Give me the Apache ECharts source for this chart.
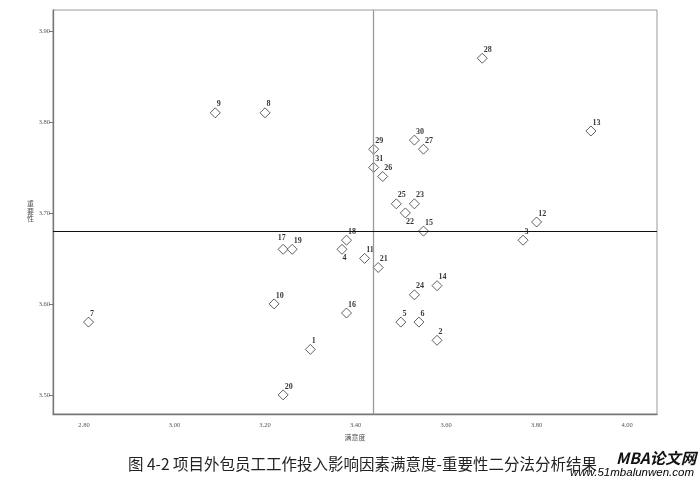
<!DOCTYPE html>
<html>
<head>
<meta charset="utf-8">
<script src="https://cdn.jsdelivr.net/npm/echarts@6/dist/echarts.min.js"></script>
<style>
  html, body { margin: 0; padding: 0; background: #fff; }
  #main { width: 700px; height: 480px; }
</style>
</head>
<body>
<div id="main"></div>
<script>
// 因素编号
var ids = [1, 2, 3, 4, 5, 6, 7, 8, 9, 10, 11, 12, 13, 14, 15, 16,
  17, 18, 19, 20, 21, 22, 23, 24, 25, 26, 27, 28, 29, 30, 31];
// 满意度
var satisfaction = [3.30, 3.58, 3.77, 3.37, 3.50, 3.54, 2.81, 3.20, 3.09, 3.22, 3.42, 3.80, 3.92, 3.58, 3.55, 3.38,
  3.24, 3.38, 3.26, 3.24, 3.45, 3.51, 3.53, 3.53, 3.49, 3.46, 3.55, 3.68, 3.44, 3.53, 3.44];
// 重要性
var importance = [3.55, 3.56, 3.67, 3.66, 3.58, 3.58, 3.58, 3.81, 3.81, 3.60, 3.65, 3.69, 3.79, 3.62, 3.68, 3.59,
  3.66, 3.67, 3.66, 3.50, 3.64, 3.70, 3.71, 3.61, 3.71, 3.74, 3.77, 3.87, 3.77, 3.78, 3.75];
// 均值参考线
var satisfactionMean = 3.443;
var importanceMean = 3.677;
// 刻度
var xTicks = [2.80, 3.00, 3.20, 3.40, 3.60, 3.80, 4.00];
var yTicks = [3.50, 3.60, 3.70, 3.80, 3.90];

var belowLabels = [4, 22];
var aboveLabels = [17];

var points = ids.map(function (id, i) {
  var pos = [7, -7];
  if (belowLabels.indexOf(id) >= 0) pos = [6, 10];
  if (aboveLabels.indexOf(id) >= 0) pos = [0, -10];
  return {
    value: [satisfaction[i], importance[i]],
    name: String(id),
    label: { position: pos }
  };
});

var myChart = echarts.init(document.getElementById('main'));
myChart.setOption({
  backgroundColor: '#fff',
  animation: false,
  title: {
    text: '图 4-2 项目外包员工工作投入影响因素满意度-重要性二分法分析结果',
    left: 123,
    top: 451,
    textStyle: {
      fontFamily: 'Noto Sans CJK SC',
      fontSize: 15.5,
      fontWeight: 'normal',
      color: '#222'
    }
  },
  grid: { left: 53, right: 43, top: 10, bottom: 66, show: true, borderColor: '#9a9a9a', borderWidth: 1 },
  xAxis: {
    type: 'value',
    min: 2.7315,
    max: 4.066,
    name: '满意度',
    nameLocation: 'middle',
    nameGap: 19,
    nameTextStyle: { fontSize: 7, color: '#555', fontFamily: 'Noto Sans CJK SC' },
    splitLine: { show: false },
    axisLine: { lineStyle: { color: '#777', width: 1.3 } },
    axisTick: { show: false, customValues: xTicks },
    axisLabel: {
      customValues: xTicks,
      fontSize: 6.5,
      color: '#555',
      fontFamily: 'Liberation Serif',
      margin: 8,
      formatter: function (v) { return v.toFixed(2); }
    }
  },
  yAxis: {
    type: 'value',
    min: 3.479,
    max: 3.923,
    splitLine: { show: false },
    axisLine: { show: true, lineStyle: { color: '#777', width: 1.3 } },
    axisTick: { show: true, customValues: yTicks, length: 4, lineStyle: { color: '#777' } },
    axisLabel: {
      customValues: yTicks,
      fontSize: 6.5,
      color: '#555',
      fontFamily: 'Liberation Serif',
      margin: 3,
      formatter: function (v) { return v.toFixed(2); }
    }
  },
  series: [
    {
      type: 'scatter',
      symbol: 'diamond',
      symbolSize: 10,
      itemStyle: { color: '#fff', borderColor: '#222', borderWidth: 0.9 },
      label: {
        show: true,
        formatter: '{b}',
        fontSize: 8,
        fontWeight: 'bold',
        fontFamily: 'Liberation Serif',
        color: '#000',
        align: 'left',
        verticalAlign: 'top'
      },
      data: points,
      markLine: {
        silent: true,
        symbol: 'none',
        label: { show: false },
        data: [
          { xAxis: satisfactionMean, lineStyle: { color: '#9a9a9a', type: 'solid', width: 1.3 } },
          { yAxis: importanceMean, lineStyle: { color: '#111', type: 'solid', width: 1.2 } }
        ]
      }
    }
  ],
  graphic: [
    {
      type: 'text',
      left: 27,
      top: 200,
      style: {
        text: '重\n要\n性',
        font: '7px "Noto Sans CJK SC"',
        lineHeight: 7.5,
        fill: '#555'
      }
    },
    {
      type: 'text',
      left: 616,
      top: 450,
      style: {
        text: 'MBA论文网',
        font: 'italic bold 15.5px "Noto Sans CJK SC"',
        fill: '#111'
      }
    },
    {
      type: 'text',
      left: 570,
      top: 467,
      style: {
        text: 'www.51mbalunwen.com',
        font: 'italic 11.5px "Liberation Sans"',
        fill: new echarts.graphic.LinearGradient(0, 0, 1, 0, [
          { offset: 0, color: '#e0318a' },
          { offset: 0.6, color: '#c75ab0' },
          { offset: 1, color: '#33b7d6' }
        ])
      }
    }
  ]
});
</script>
</body>
</html>
